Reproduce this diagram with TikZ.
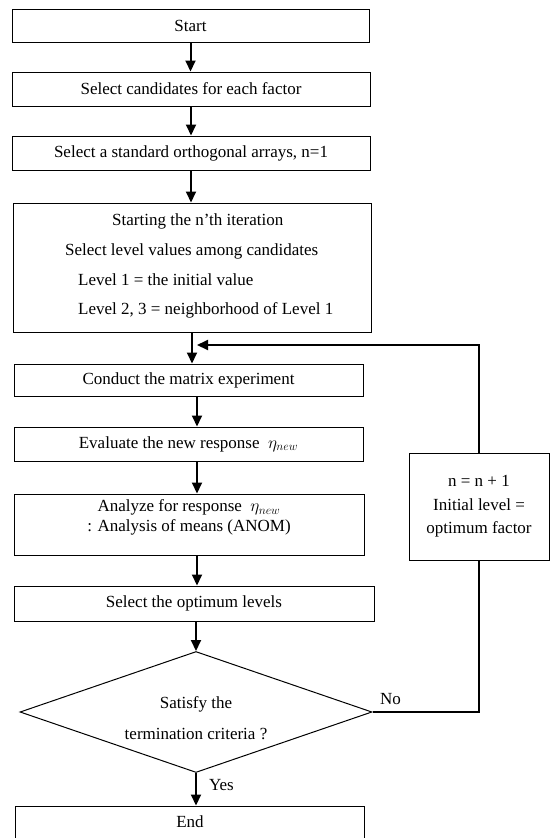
\documentclass[tikz,border=0pt]{standalone}
\usepackage{fontspec}
\setmainfont{Liberation Serif}
\usetikzlibrary{shapes.geometric,arrows.meta}
\begin{document}
\begin{tikzpicture}[x=1pt,y=-1pt,
  box/.style={draw=black, rectangle, line width=1pt, inner sep=0pt, align=center, font=\fontsize{17}{20}\selectfont},
  lbl/.style={inner sep=0pt, text height=12pt, text depth=4pt, font=\fontsize{17}{20}\selectfont},
  flow/.style={line width=2pt, -{Triangle[length=11pt,width=10pt]}},
  back/.style={line width=1.2pt}]
\useasboundingbox (0,0) rectangle (553,838);
\fill[white] (0,0) rectangle (553,838);
\node[box, minimum width=357pt, minimum height=33pt] (start) at (190.5,25.5) {Start};
\node[box, minimum width=358pt, minimum height=34pt] (cand) at (191,89) {Select candidates for each factor};
\node[box, minimum width=358pt, minimum height=34pt] (orth) at (191,153) {Select a standard orthogonal arrays, n=1};
\node[box, minimum width=358pt, minimum height=129pt] (iter) at (192,267.5) {};
\node[lbl, anchor=west] (iter1) at (112,221) {Starting the n’th iteration};
\node[lbl, anchor=west] (iter2) at (65,251) {Select level values among candidates};
\node[lbl, anchor=west] (iter3) at (78,281) {Level 1 = the initial value};
\node[lbl, anchor=west] (iter4) at (78,310) {Level 2, 3 = neighborhood of Level 1};
\node[box, minimum width=349pt, minimum height=32pt] (conduct) at (188.5,380) {Conduct the matrix experiment};
\node[box, minimum width=349pt, minimum height=34pt] (eval) at (188.5,444) {Evaluate the new response\ \ $\eta_{new}$};
\node[box, minimum width=350pt, minimum height=61pt] (anal) at (189,524.5) {};
\node[box, draw=none] (analtxt) at (189,517.5) {Analyze for response\ \ $\eta_{new}$\\: Analysis of means (ANOM)};
\node[box, minimum width=360pt, minimum height=35pt] (opt) at (194,603.5) {Select the optimum levels};
\node[box, diamond, aspect=2.9, minimum width=352pt, minimum height=121pt] (crit) at (196,712) {\\[4pt]Satisfy the\\[11pt]termination criteria ?};
\node[box, minimum width=349pt, minimum height=32pt] (stop) at (190,822) {End};
\node[box, minimum width=140pt, minimum height=107pt, font=\fontsize{17}{23.5}\selectfont] (upd) at (479,506.5) {n = n + 1\\Initial level =\\optimum factor};
\coordinate (join) at (197,345);
% main flow
\draw[flow] (start.south) -- (start.south |- cand.north);
\draw[flow] (cand.south) -- (cand.south |- orth.north);
\draw[flow] (orth.south) -- (orth.south |- iter.north);
\draw[flow] (iter.south) -- (iter.south |- conduct.north);
\draw[flow] (conduct.south -| join) -- (eval.north -| join);
\draw[flow] (eval.south -| join) -- (anal.north -| join);
\draw[flow] (anal.south -| join) -- (opt.north -| join);
\draw[flow] (opt.south -| crit) -- (crit.north);
\draw[flow] (crit.south) -- node[lbl, right, pos=0.42, xshift=12pt] {Yes} (crit.south |- stop.north);
% loop back
\draw[back] (crit.east) -- node[lbl, above, pos=0.17, yshift=3pt] {No} (crit.east -| upd) -- (upd.south);
\draw[back] (upd.north) -- (upd.north |- join);
\draw[flow] ([xshift=0.6pt]upd.north |- join) -- (join);
\end{tikzpicture}
\end{document}
